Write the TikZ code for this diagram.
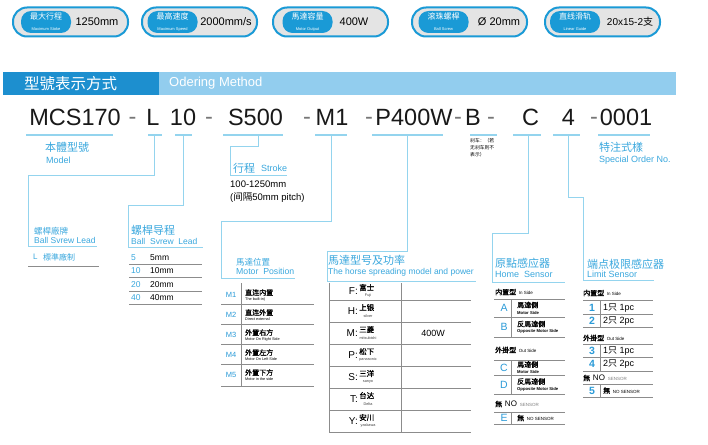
\documentclass[tikz,border=0pt]{standalone}
\usepackage{fontspec}
\setmainfont{Liberation Sans}
\newfontfamily\cjk{Noto Sans CJK SC}
\newfontfamily\cjkb[FakeBold=1.2]{Noto Sans CJK SC}
\newcommand\fsz[1]{\fontsize{#1}{#1}\selectfont}
\definecolor{bblue}{HTML}{1A9AD6}
\definecolor{bgrey}{HTML}{E4E4E4}
\definecolor{tdark}{HTML}{1D8FCF}
\definecolor{tlight}{HTML}{92CDEE}
\definecolor{cline}{HTML}{94D4EE}
\definecolor{lblue}{HTML}{3AA8DE}
\definecolor{nblue}{HTML}{2B9BD8}
\definecolor{gline}{HTML}{8C8C8C}
\definecolor{dgrey}{HTML}{777777}
\begin{document}
\begin{tikzpicture}[x=1pt,y=-1pt,
  badgeo/.style={draw=bblue,line width=2pt,fill=bgrey,rounded corners=14pt,minimum width=115pt,minimum height=29pt,inner sep=0},
  pill/.style={fill=bblue,rounded corners=10pt,minimum width=50pt,minimum height=22pt,inner sep=0,text=white,align=center},
  val/.style={inner sep=0,font=\fsz{11}},
  code/.style={anchor=base,inner sep=0,font=\fsz{23.5},text=black!90},
  dsh/.style={anchor=base,inner sep=0,font=\fsz{23.5},text=dgrey},
  uline/.style={draw=cline,line width=1.1pt},
  conn/.style={draw=cline,line width=1pt},
  gl/.style={draw=gline,line width=0.7pt},
  lab/.style={anchor=west,inner sep=0,text=lblue},
  txt/.style={anchor=west,inner sep=0,text=black},
  num/.style={inner sep=0,text=nblue},
  sm/.style={inner sep=0,text=black!75}
]
\useasboundingbox (0,0) rectangle (708,444);
\fill[white] (0,0) rectangle (708,444);

% ---------- badges ----------
\node[badgeo] (b1) at (70.5,22) {};
\node[badgeo] (b2) at (199.5,22) {};
\node[badgeo] (b3) at (330.5,22) {};
\node[badgeo] (b4) at (469.5,22) {};
\node[badgeo] (b5) at (602.5,22) {};
\node[pill] (p1) at (46,22) {{\cjk\fsz{8}最大行程}\\[-1pt]{\fsz{4}Maximum Stoke}};
\node[pill] (p2) at (172.5,22) {{\cjk\fsz{8}最高速度}\\[-1pt]{\fsz{4}Maximum Speed}};
\node[pill] (p3) at (307.5,22) {{\cjk\fsz{8}馬達容量}\\[-1pt]{\fsz{4}Motor Output}};
\node[pill] (p4) at (443.5,22) {{\cjk\fsz{8}滚珠螺桿}\\[-1pt]{\fsz{4}Ball Screw}};
\node[pill] (p5) at (575,22) {{\cjk\fsz{8}直线滑轨}\\[-1pt]{\fsz{4}Linear Guide}};
\node[val] (v1) at (97,22) {1250mm};
\node[val] (v2) at (226,22) {2000mm/s};
\node[val] (v3) at (354,22) {400W};
\node[val] (v4) at (499,22) {Ø 20mm};
\node[val,font=\fsz{10}] (v5) at (630,22) {20x15-2{\cjk 支}};

% ---------- title bar ----------
\node[fill=tdark,minimum width=156pt,minimum height=23pt,inner sep=0,anchor=north west] (tbd) at (3,72) {};
\node[fill=tlight,minimum width=517pt,minimum height=23pt,inner sep=0,anchor=north west] (tbl) at (159,72) {};
\node[inner sep=0,text=white,font=\cjk\fsz{15.5}] (tt1) at (70.5,83.5) {型號表示方式};
\node[inner sep=0,text=white,font=\fsz{13},anchor=west] (tt2) at (169,83.5) {Odering Method};

% ---------- code row ----------
\node[code] (cM) at (75,125) {MCS170};
\node[dsh] (d1) at (132.5,124) {-};
\node[code] (cL) at (153,125) {L};
\node[code] (c10) at (183,125) {10};
\node[dsh] (d2) at (209,124) {-};
\node[code] (cS) at (255.5,125) {S500};
\node[dsh] (d3) at (307,124) {-};
\node[code] (cM1) at (332,125) {M1};
\node[dsh] (d4) at (369,124) {-};
\node[code] (cP) at (414,125) {P400W};
\node[dsh] (d5) at (458,124) {-};
\node[code] (cB) at (473,125) {B};
\node[dsh] (d6) at (491,124) {-};
\node[code] (cC) at (530.5,125) {C};
\node[code] (c4) at (568.5,125) {4};
\node[dsh] (d7) at (594,124) {-};
\node[code] (c0) at (626,125) {0001};

% underlines
\draw[uline] (26,135) -- (113,135);
\draw[uline] (148,135) -- (162,135);
\draw[uline] (175,135) -- (192,135);
\draw[uline] (223,135) -- (283,135);
\draw[uline] (315,135) -- (347,135);
\draw[uline] (372,135) -- (443,135);
\draw[uline] (470,135) -- (497,135);
\draw[uline] (513,135) -- (541,135);
\draw[uline] (553,135) -- (580,135);
\draw[uline] (598,135) -- (650,135);

% connector anchor points
\coordinate (kL) at (154,135);
\coordinate (k10) at (183,135);
\coordinate (kS) at (258,135);
\coordinate (kM) at (331,135);
\coordinate (kP) at (407,135);
\coordinate (kC) at (528,135);
\coordinate (k4) at (568,135);

\draw[conn] (kL) -- (154,175) -- (28,175) -- (28,246) -- (97,246);
\draw[conn] (k10) -- (183,205) -- (128,205) -- (128,247) -- (203,247);
\draw[conn] (kS) -- (258,146) -- (230,146) -- (230,175) -- (287,175);
\draw[conn] (kM) -- (331,221) -- (221,221) -- (221,278) -- (295,278);
\draw[conn] (kP) -- (407,251) -- (327,251) -- (327,281) -- (476,281);
\draw[conn] (kC) -- (528,233) -- (492,233) -- (492,282) -- (565,282);
\draw[conn] (k4) -- (568,197) -- (583,197) -- (583,280) -- (654,280);

% ---------- labels ----------
\node[lab,font=\cjk\fsz{11}] (lm1) at (45,147) {本體型號};
\node[lab,font=\fsz{9}] (lm2) at (46,160) {Model};
\node[lab,font=\cjk\fsz{11}] (lo1) at (599,147) {特注式樣};
\node[lab,font=\fsz{9}] (lo2) at (599,160) {Special Order No.};
\node[txt,font=\cjk\fsz{4.8}] (bn1) at (470,141) {刹车：（若};
\node[txt,font=\cjk\fsz{4.8}] (bn2) at (470,148) {无刹车则不};
\node[txt,font=\cjk\fsz{4.8}] (bn3) at (470,155) {表示）};

% Ball screw brand
\node[lab,font=\cjk\fsz{8.5}] (bs1) at (34,231) {螺桿廠牌};
\node[lab,font=\fsz{8.5}] (bs2) at (34,240.5) {Ball Svrew Lead};
\node[lab,font=\fsz{8}] (bsL) at (33,257) {L};
\node[lab,font=\cjk\fsz{8}] (bsT) at (43,257) {標準廠制};
\draw[gl] (28,266) -- (99,266);

% lead
\node[lab,font=\cjk\fsz{11}] (ld1) at (131,230) {螺桿导程};
\node[lab,font=\fsz{8.5}] (ld2) at (131,241) {Ball~~Svrew~~Lead};
\foreach \n/\v/\y in {5/5mm/258,10/10mm/271,20/20mm/285,40/40mm/298}{
  \node[lab,font=\fsz{8.5}] at (131,\y) {\n};
  \node[txt,font=\fsz{8.5}] at (150,\y) {\v};
}
\foreach \y in {264,277,291,304}{\draw[gl] (129,\y) -- (202,\y);}

% stroke
\node[lab,font=\cjk\fsz{11}] (st1) at (233,168) {行程};
\node[lab,font=\fsz{9}] (st2) at (261,168.5) {Stroke};
\node[txt,font=\fsz{9.5}] (st3) at (230,184) {100-1250mm};
\node[txt,font=\fsz{9.5}] (st4) at (230,198) {({\cjk 间隔}50mm pitch)};

% motor position
\node[lab,font=\cjk\fsz{8.5}] (mp1) at (236,262) {馬達位置};
\node[lab,font=\fsz{8.7}] (mp2) at (236,271) {Motor~~Position};
\draw[gl] (241,283) -- (241,386);
\foreach \m/\zh/\en/\c in {M1/直连内置/The built-in)/295, M2/直连外置/Direct external/315, M3/外置右方/Motor On Right Side/335, M4/外置左方/Motor On Left Side/355, M5/外置下方/Motor in the side/375}{
  \node[num,font=\fsz{7.5}] at (231,\c) {\m};
  \node[txt,font=\cjkb\fsz{7}] at (245,\c-2.5) {\zh};
  \node[txt,font=\fsz{3.8}] at (245,\c+4.5) {\en};
}
\foreach \y in {304,324,344,364,386}{\draw[gl] (221,\y) -- (314,\y);}

% motor model
\node[lab,font=\cjk\fsz{11}] (mm1) at (328,260) {馬達型号及功率};
\node[lab,font=\fsz{8.5}] (mm2) at (328,272) {The horse spreading model and power};
\draw[gl] (329,283) -- (329,432);
\draw[gl] (401,283) -- (401,432);
\foreach \y in {300,322,344,366,388,410,432}{\draw[gl] (329,\y) -- (471,\y);}
\foreach \L/\zh/\en/\c/\v in {F/富士/Fuji/291//, H/上银/silver/311//, M/三菱/mitsubishi/333/400W, P/松下/panasonic/355//, S/三洋/sanyo/377/, T/台达/Delta/399/, Y/安川/yaskawa/421/}{
  \node[inner sep=0,anchor=east,font=\fsz{10}] at (358,\c) {\L:};
  \node[txt,font=\cjkb\fsz{7.5}] at (359,\c-3.5) {\zh};
  \node[sm,font=\fsz{3.8}] at (368,\c+5) {\en};
  \node[inner sep=0,font=\fsz{9}] at (433,\c) {\v};
}

% home sensor
\node[lab,font=\cjk\fsz{11}] (hs1) at (495,263) {原點感应器};
\node[lab,font=\fsz{9}] (hs2) at (495,274) {Home~~Sensor};
\node[txt] (hh1) at (495,292) {{\cjkb\fsz{7}内置型} {\fsz{4.5}In Side}};
\node[txt] (hh2) at (495,350) {{\cjkb\fsz{7}外掛型} {\fsz{4.5}Out Side}};
\node[txt] (hh3) at (495,404) {{\cjkb\fsz{7}無} {\fsz{8}NO} {\fsz{4.5}\color{gray}SENSOR}};
\foreach \y in {299,317,337,360,375,394,412,424}{\draw[gl] (494,\y) -- (565,\y);}
\draw[gl] (511,299) -- (511,337);
\draw[gl] (511,360) -- (511,394);
\draw[gl] (511,412) -- (511,424);
\foreach \L/\zh/\en/\c in {A/馬達側/Motor Side/308, B/反馬達側/Opposite Motor Side/327, C/馬達側/Motor Side/367.5, D/反馬達側/Opposite Motor Side/384.5}{
  \node[num,font=\fsz{10.5}] at (504,\c) {\L};
  \node[txt,font=\cjkb\fsz{7}] at (517,\c-3) {\zh};
  \node[txt,font=\bfseries\fsz{4.2}] at (517,\c+4.5) {\en};
}
\node[num,font=\fsz{10.5}] (hE) at (504,418) {E};
\node[txt] (hEt) at (517,418) {{\cjkb\fsz{7}無} {\fsz{4.5}NO SENSOR}};

% limit sensor
\node[lab,font=\cjk\fsz{11}] (ls1) at (587,264) {端点极限感应器};
\node[lab,font=\fsz{9}] (ls2) at (587,274) {Limit Sensor};
\node[txt] (lh1) at (583,293) {{\cjkb\fsz{7}内置型} {\fsz{4.5}In Side}};
\node[txt] (lh2) at (583,338) {{\cjkb\fsz{7}外掛型} {\fsz{4.5}Out Side}};
\node[txt] (lh3) at (583,378) {{\cjkb\fsz{7}無} {\fsz{8}NO} {\fsz{4.5}\color{gray}SENSOR}};
\foreach \y in {300,314,327,344,357,371,384,397}{\draw[gl] (583,\y) -- (653,\y);}
\draw[gl] (600,300) -- (600,327);
\draw[gl] (600,344) -- (600,371);
\draw[gl] (600,384) -- (600,397);
\foreach \n/\k/\c in {1/1/307.5,2/2/320.5,3/1/350.5,4/2/364}{
  \node[num,font=\bfseries\fsz{10.5}] at (592,\c) {\n};
  \node[txt,font=\fsz{9}] at (603,\c) {\k{\cjk 只} \k pc};
}
\node[num,font=\bfseries\fsz{10.5}] (l5) at (592,390.5) {5};
\node[txt] (l5t) at (603,390.5) {{\cjkb\fsz{7}無} {\fsz{4.5}NO SENSOR}};
\end{tikzpicture}
\end{document}
